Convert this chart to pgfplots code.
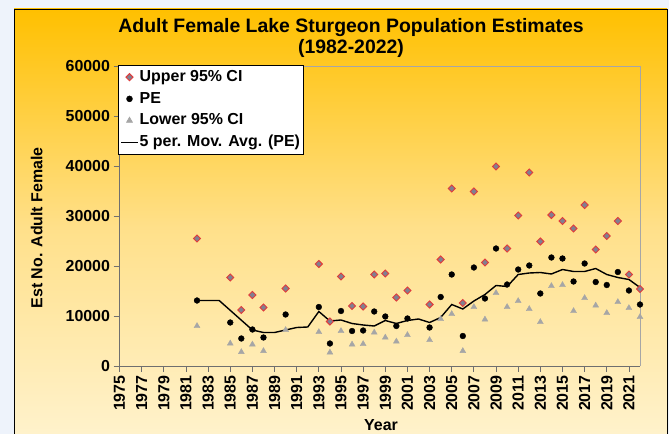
\documentclass[border=0pt]{standalone}
\usepackage{pgfplots}
\pgfplotsset{compat=1.18}
\usepackage{pgfplotstable}
\usepackage{fontspec}
\setmainfont{Liberation Sans}
\definecolor{outerbg}{HTML}{EEF3FB}
\definecolor{goldtop}{HTML}{FFC000}
\definecolor{goldmid}{HTML}{FFE08A}
\definecolor{goldbot}{HTML}{FFF3CF}
\definecolor{upperred}{HTML}{E03C3C}
\definecolor{uppergray}{HTML}{808090}
\definecolor{lowergray}{HTML}{A6A6A6}
\definecolor{bordergray}{HTML}{A6A6A6}
\definecolor{axisgray}{HTML}{6F6F6F}

\pgfplotstableread{
year upper pe lower
1982 25500 13100 8000
1985 17700 8700 4500
1986 11200 5500 2800
1987 14200 7300 4300
1988 11700 5700 3000
1990 15500 10300 7200
1993 20400 11800 6800
1994 8900 4500 2700
1995 17900 11000 7000
1996 12000 7000 4300
1997 11900 7100 4400
1998 18300 10900 6700
1999 18500 9900 5700
2000 13700 8000 4900
2001 15100 9500 6200
2003 12300 7700 5200
2004 21300 13800 9400
2005 35500 18300 10400
2006 12600 6000 3000
2007 34900 19700 11800
2008 20700 13500 9300
2009 39900 23500 14600
2010 23500 16300 11800
2011 30100 19300 13000
2012 38700 20100 11400
2013 24900 14500 8800
2014 30200 21700 16000
2015 29000 21500 16200
2016 27500 16900 11000
2017 32200 20500 13600
2018 23300 16800 12100
2019 26000 16200 10600
2020 29000 18800 12800
2021 18300 15100 11600
2022 15400 12300 9800
}\cidata

\pgfplotstableread{
year ma
1982 13100
1983 13100
1984 13100
1987 7200
1988 6700
1989 6700
1990 7200
1991 7700
1992 7800
1993 10900
1994 9000
1995 9200
1996 8500
1997 8200
1998 8000
1999 9100
2000 8500
2001 9100
2002 9400
2003 8700
2004 9700
2005 12300
2006 11400
2007 13000
2008 14300
2009 16100
2010 15900
2011 18300
2012 18600
2013 18700
2014 18400
2015 19300
2016 18900
2017 18900
2018 19500
2019 18300
2020 17700
2021 17300
2022 15700
}\madata

\begin{document}
\begin{tikzpicture}
\useasboundingbox (0,0) rectangle (669bp,434bp);
\fill[outerbg] (0,0) rectangle (669bp,434bp);
\shade[top color=goldtop, bottom color=goldbot, middle color=goldmid] (14bp,-12bp) rectangle (667bp,425bp);
\draw[black, line width=0.8bp] (14bp,-12bp) rectangle (667bp,425bp);
\node[font=\fontsize{19.5}{22}\selectfont\bfseries] at (351bp,406bp) {Adult Female Lake Sturgeon Population Estimates};
\node[font=\fontsize{19.5}{22}\selectfont\bfseries] at (351bp,386bp) {(1982-2022)};
\node[font=\fontsize{16}{19}\selectfont\bfseries, rotate=90] at (36.7bp,206.2bp) {Est No. Adult Female};
\node[font=\fontsize{16}{19}\selectfont\bfseries] at (381bp,9bp) {Year};
\begin{axis}[
  at={(119.5bp,68bp)}, anchor=south west,
  scale only axis, width=520.5bp, height=300bp,
  xmin=1975, xmax=2022, ymin=0, ymax=60000,
  clip=false,
  axis lines*=left,
  axis line style={-, draw=axisgray, line width=0.8bp},
  xtick={1975,1977,...,2021},
  ytick={0,10000,...,60000},
  scaled y ticks=false,
  tick align=outside,
  major tick length=6bp,
  tick style={draw=axisgray, line width=0.8bp},
  /pgf/number format/assume math mode=true,
  /pgf/number format/1000 sep={},
  ticklabel style={font=\fontsize{16}{19}\selectfont\bfseries},
  xticklabel style={rotate=90, anchor=east},
  legend style={at={(rel axis cs:0,1)}, anchor=north west, xshift=-1.5bp, yshift=1bp,
    draw=black, line width=0.6bp, fill=white,
    font=\fontsize{16}{19}\selectfont\bfseries,
    inner xsep=2bp, inner ysep=1bp, row sep=0bp,
    nodes={inner xsep=1bp, inner ysep=2.6bp, text height=12.5bp, text depth=4bp}},
  legend cell align=left,
  legend image code/.code={\draw[mark repeat=2,mark phase=2,#1] plot coordinates {(0bp,0bp) (8.5bp,0bp) (17bp,0bp)};},
]
\addplot[only marks, mark=square*, mark size=2.5bp, mark options={rotate=45, fill=uppergray, draw=upperred, line width=0.9bp}] table[x=year, y=upper] {\cidata};
\addlegendentry{Upper 95\% CI}
\addplot[only marks, mark=*, mark size=2.9bp, mark options={fill=black, draw=black}] table[x=year, y=pe] {\cidata};
\addlegendentry{PE}
\addplot[only marks, mark=triangle*, mark size=3.4bp, mark options={fill=lowergray, draw=lowergray}] table[x=year, y=lower] {\cidata};
\addlegendentry{Lower 95\% CI}
\addplot[no marks, black, line width=1.4bp] table[x=year, y=ma] {\madata};
\addlegendentry{5 per. Mov. Avg. (PE)}
\draw[bordergray, line width=0.8bp] (rel axis cs:0,1) -- (rel axis cs:1,1) -- (rel axis cs:1,0);
\end{axis}
\end{tikzpicture}
\end{document}
